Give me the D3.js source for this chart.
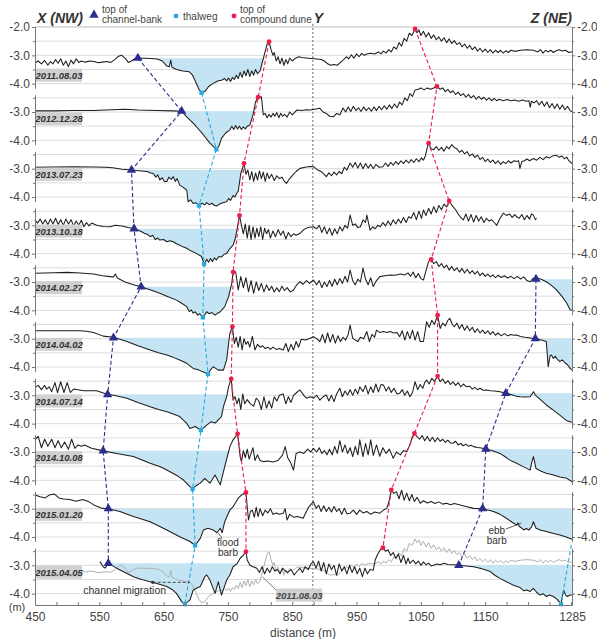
<!DOCTYPE html>
<html>
<head>
<meta charset="utf-8">
<script src="https://cdn.jsdelivr.net/npm/d3@7"></script>
<style>
  body { margin: 0; background: #fff; }
  svg { display: block; font-family: "Liberation Sans", Arial, sans-serif; }
  .axis path, .axis line { stroke: #777; }
  .axis text { fill: #444; font-size: 12px; }
</style>
</head>
<body>
<svg id="chart"></svg>
<script>
// survey dates, one profile per date (top to bottom)
const dates = ["2011.08.03", "2012.12.28", "2013.07.23", "2013.10.18", "2014.02.27",
               "2014.04.02", "2014.07.14", "2014.10.08", "2015.01.20", "2015.04.05"];

// profiles: [distance (m), elevation (m)]
const prof_20110803 = [[450,-3.27],[455,-3.2],[460,-3.3],[465,-3.18],[470,-3.35],[474,-3.22],[478,-3.3],[482,-3.15],[486,-3.28],[490,-3.12],[494,-3.35],[498,-3.2],[502,-3.4],[506,-3.17],[510,-3.3],[514,-3.12],[518,-3.25],[522,-3.2],[528,-3.24],[535,-3.2],[542,-3.22],[548,-3.26],[555,-3.24],[562,-3.22],[568,-3.25],[574,-3.15],[580,-3.03],[585,-3.0],[590,-3.1],[595,-3.25],[600,-3.2],[605,-3.12],[610,-3.1],[620,-3.1],[630,-3.11],[640,-3.13],[648,-3.2],[655,-3.38],[659,-3.4],[661,-3.17],[663,-3.42],[670,-3.5],[680,-3.55],[690,-3.58],[695,-3.7],[700,-3.95],[705,-4.2],[709,-4.32],[714,-4.28],[720,-4.1],[727,-3.99],[735,-3.9],[740,-3.88],[745,-3.82],[748,-3.9],[751,-3.8],[754,-3.92],[757,-3.78],[760,-3.85],[763,-3.7],[766,-3.82],[769,-3.6],[772,-3.78],[775,-3.55],[778,-3.72],[781,-3.5],[784,-3.75],[787,-3.55],[790,-3.7],[793,-3.5],[796,-3.65],[800,-3.55],[804,-3.2],[808,-2.85],[811,-2.6],[814,-2.52],[817,-2.8],[820,-3.0],[822,-2.9],[825,-3.2],[828,-3.05],[831,-3.3],[834,-3.1],[837,-3.35],[840,-3.15],[843,-3.3],[846,-3.1],[850,-3.2],[855,-3.1],[860,-3.05],[865,-3.08],[875,-3.1],[885,-3.12],[895,-3.15],[900,-3.2],[905,-3.3],[910,-3.35],[915,-3.32],[920,-3.35],[925,-3.25],[930,-3.15],[934,-3.05],[938,-3.12],[942,-2.98],[946,-3.1],[950,-2.95],[954,-3.05],[958,-2.93],[962,-3.0],[966,-2.95],[972,-2.93],[978,-2.95],[984,-2.88],[988,-2.95],[992,-2.85],[996,-2.92],[1000,-2.8],[1004,-2.88],[1008,-2.7],[1012,-2.78],[1016,-2.55],[1020,-2.68],[1024,-2.4],[1028,-2.5],[1032,-2.22],[1036,-2.3],[1041,-2.07],[1044,-2.2],[1047,-2.1],[1050,-2.3],[1054,-2.15],[1058,-2.35],[1062,-2.2],[1066,-2.4],[1070,-2.28],[1074,-2.45],[1078,-2.35],[1082,-2.5],[1086,-2.38],[1090,-2.55],[1094,-2.42],[1098,-2.58],[1102,-2.48],[1106,-2.62],[1110,-2.55],[1114,-2.7],[1118,-2.6],[1122,-2.75],[1126,-2.65],[1130,-2.8],[1134,-2.7],[1138,-2.85],[1142,-2.75],[1146,-2.88],[1150,-2.78],[1154,-2.9],[1158,-2.8],[1162,-2.92],[1166,-2.82],[1170,-2.9],[1174,-2.82],[1178,-2.92],[1182,-2.84],[1186,-2.9],[1190,-2.82],[1196,-2.86],[1205,-2.82],[1215,-2.8],[1225,-2.82],[1232,-2.88],[1236,-2.8],[1240,-2.92],[1244,-2.82],[1248,-2.88],[1252,-2.82],[1256,-2.9],[1260,-2.84],[1265,-2.8],[1270,-2.85],[1275,-2.82],[1280,-2.9],[1285,-2.87]];

const prof_20121228 = [[450,-2.96],[480,-2.96],[510,-2.95],[540,-2.95],[570,-2.92],[590,-2.9],[610,-2.93],[640,-2.95],[665,-2.96],[678,-2.97],[686,-3.17],[694,-3.35],[701,-3.52],[712,-3.81],[722,-4.1],[732,-4.32],[736,-4.2],[740,-3.93],[746,-3.75],[753,-3.63],[756,-3.5],[759,-3.62],[762,-3.48],[765,-3.6],[768,-3.5],[771,-3.62],[774,-3.52],[777,-3.6],[780,-3.5],[784,-3.46],[789,-3.1],[793,-2.64],[797,-2.48],[802,-2.46],[805,-3.1],[808,-3.05],[811,-3.2],[814,-3.08],[817,-3.18],[820,-3.05],[823,-3.15],[826,-3.02],[829,-3.2],[832,-3.05],[835,-3.15],[838,-3.08],[842,-3.18],[846,-3.0],[850,-3.1],[857,-2.93],[865,-2.95],[872,-2.92],[877,-2.93],[885,-2.9],[893,-2.87],[898,-3.0],[903,-3.05],[908,-3.15],[914,-3.17],[919,-3.05],[924,-3.1],[929,-2.86],[933,-3.0],[937,-2.82],[941,-2.98],[945,-2.8],[949,-2.95],[953,-2.85],[957,-2.98],[961,-2.82],[965,-2.95],[969,-2.85],[973,-2.97],[977,-2.82],[981,-2.95],[985,-2.8],[989,-2.92],[993,-2.78],[997,-2.9],[1001,-2.75],[1005,-2.88],[1009,-2.72],[1013,-2.85],[1017,-2.65],[1021,-2.75],[1025,-2.5],[1029,-2.6],[1033,-2.35],[1037,-2.45],[1041,-2.22],[1046,-2.2],[1050,-2.15],[1055,-2.22],[1060,-2.15],[1065,-2.2],[1070,-2.15],[1075,-2.1],[1080,-2.2],[1084,-2.15],[1088,-2.28],[1092,-2.2],[1096,-2.32],[1100,-2.25],[1104,-2.38],[1108,-2.3],[1112,-2.42],[1116,-2.35],[1120,-2.48],[1124,-2.38],[1128,-2.5],[1132,-2.42],[1136,-2.55],[1140,-2.45],[1144,-2.55],[1148,-2.48],[1152,-2.58],[1156,-2.5],[1160,-2.6],[1164,-2.52],[1168,-2.6],[1172,-2.55],[1178,-2.6],[1184,-2.56],[1190,-2.6],[1196,-2.58],[1202,-2.62],[1208,-2.58],[1214,-2.62],[1218,-2.6],[1220,-2.83],[1222,-2.62],[1226,-2.68],[1230,-2.6],[1234,-2.75],[1238,-2.62],[1242,-2.8],[1246,-2.65],[1250,-2.85],[1254,-2.7],[1258,-2.88],[1262,-2.72],[1266,-2.9],[1270,-2.75],[1274,-2.92],[1278,-2.8],[1282,-2.95],[1285,-2.99]];

const prof_20130723 = [[450,-2.95],[480,-2.94],[510,-2.93],[540,-2.94],[560,-2.95],[571,-2.97],[585,-3.02],[600,-3.05],[612,-3.07],[624,-3.1],[630,-3.15],[634,-3.17],[638,-3.3],[641,-3.22],[644,-3.4],[648,-3.32],[651,-3.45],[655,-3.45],[658,-3.3],[662,-3.38],[665,-3.28],[668,-3.45],[671,-3.35],[675,-3.58],[680,-3.65],[686,-3.76],[688,-4.17],[692,-4.1],[696,-4.23],[700,-4.2],[705,-4.3],[710,-4.22],[714,-4.28],[717,-4.2],[721,-4.27],[725,-4.22],[729,-4.3],[732,-4.32],[737,-4.25],[742,-4.2],[748,-4.17],[751,-4.05],[754,-4.12],[758,-3.95],[761,-4.0],[764,-3.85],[766,-3.8],[770,-3.17],[775,-2.81],[778,-3.2],[781,-3.05],[784,-3.4],[787,-3.1],[790,-3.45],[793,-3.15],[796,-3.4],[799,-3.08],[802,-3.35],[805,-3.12],[808,-3.45],[811,-3.15],[814,-3.35],[818,-3.2],[822,-3.42],[826,-3.25],[830,-3.35],[834,-3.3],[838,-3.45],[841,-3.52],[846,-3.35],[851,-3.22],[856,-3.1],[862,-2.99],[870,-2.95],[877,-2.92],[883,-2.93],[890,-3.05],[896,-3.12],[903,-3.28],[907,-3.15],[911,-3.25],[915,-3.12],[919,-3.22],[923,-3.1],[927,-3.18],[931,-2.95],[935,-3.05],[940,-2.8],[944,-2.95],[948,-2.78],[952,-2.98],[956,-2.8],[960,-3.0],[964,-2.82],[968,-2.98],[972,-2.85],[976,-3.0],[980,-2.85],[985,-2.95],[991,-2.93],[995,-2.8],[999,-2.92],[1003,-2.78],[1007,-2.88],[1011,-2.75],[1015,-2.85],[1019,-2.72],[1023,-2.82],[1027,-2.7],[1031,-2.8],[1035,-2.68],[1039,-2.78],[1043,-2.65],[1047,-2.75],[1051,-2.62],[1054,-2.7],[1057,-2.55],[1060,-2.25],[1062,-2.1],[1066,-2.3],[1070,-2.33],[1074,-2.22],[1078,-2.35],[1082,-2.25],[1086,-2.38],[1090,-2.22],[1094,-2.3],[1098,-2.15],[1102,-2.25],[1106,-2.3],[1110,-2.42],[1114,-2.35],[1118,-2.48],[1122,-2.4],[1126,-2.55],[1130,-2.48],[1134,-2.6],[1138,-2.52],[1142,-2.68],[1146,-2.6],[1150,-2.75],[1154,-2.66],[1158,-2.78],[1162,-2.7],[1166,-2.82],[1170,-2.72],[1174,-2.85],[1178,-2.75],[1182,-2.82],[1186,-2.72],[1190,-2.8],[1195,-2.72],[1199,-2.75],[1202,-2.72],[1204,-2.99],[1207,-2.75],[1211,-2.72],[1215,-2.66],[1219,-2.72],[1225,-2.64],[1230,-2.7],[1235,-2.6],[1240,-2.68],[1245,-2.58],[1250,-2.62],[1255,-2.55],[1261,-2.53],[1265,-2.6],[1269,-2.55],[1273,-2.65],[1277,-2.6],[1280,-2.72],[1282,-2.75],[1285,-2.82]];

const prof_20131018 = [[450,-2.81],[454,-2.92],[458,-2.78],[462,-2.95],[466,-2.8],[470,-2.98],[474,-2.78],[478,-2.95],[482,-2.75],[486,-2.97],[490,-2.8],[494,-3.0],[498,-2.78],[502,-2.95],[506,-2.8],[510,-3.02],[514,-2.85],[518,-3.0],[522,-2.82],[526,-3.05],[530,-2.9],[534,-3.02],[538,-2.92],[546,-3.0],[556,-3.04],[567,-3.05],[575,-3.0],[585,-3.02],[595,-3.08],[604,-3.12],[612,-3.18],[620,-3.28],[625,-3.32],[629,-3.4],[633,-3.35],[637,-3.5],[641,-3.45],[644,-3.52],[650,-3.5],[655,-3.58],[660,-3.54],[665,-3.58],[670,-3.65],[675,-3.7],[680,-3.76],[686,-3.81],[692,-3.9],[701,-3.99],[709,-4.1],[713,-4.37],[717,-4.2],[720,-4.3],[723,-4.17],[726,-4.28],[729,-4.15],[732,-4.22],[736,-4.1],[740,-4.12],[744,-4.02],[748,-3.99],[752,-3.85],[758,-3.7],[761,-3.5],[764,-3.17],[768,-2.65],[771,-3.0],[774,-3.3],[777,-2.95],[780,-3.45],[783,-3.0],[786,-3.5],[789,-3.05],[792,-3.45],[795,-3.1],[798,-3.4],[801,-3.05],[804,-3.5],[807,-3.1],[810,-3.3],[813,-3.15],[816,-3.45],[820,-3.2],[824,-3.4],[828,-3.15],[832,-3.35],[836,-3.2],[840,-3.48],[844,-3.25],[848,-3.4],[852,-3.3],[856,-3.35],[862,-3.28],[868,-3.15],[874,-3.08],[883,-3.05],[888,-3.12],[892,-3.0],[896,-3.25],[900,-3.05],[904,-3.3],[908,-3.1],[912,-3.35],[916,-3.12],[920,-3.3],[924,-3.05],[928,-3.2],[932,-3.0],[936,-3.1],[940,-2.64],[944,-3.0],[948,-2.95],[952,-3.08],[956,-3.05],[960,-2.81],[964,-2.9],[966,-2.64],[971,-3.17],[975,-3.05],[979,-3.12],[983,-3.0],[987,-3.05],[991,-2.9],[995,-3.02],[999,-2.85],[1003,-3.0],[1007,-2.8],[1011,-2.95],[1015,-2.78],[1019,-2.92],[1023,-2.72],[1027,-2.9],[1031,-2.7],[1035,-2.75],[1039,-2.55],[1043,-2.8],[1047,-2.5],[1051,-2.75],[1054,-2.46],[1058,-2.65],[1062,-2.4],[1066,-2.6],[1070,-2.34],[1074,-2.55],[1078,-2.3],[1082,-2.45],[1086,-2.25],[1090,-2.35],[1094,-2.14],[1097,-2.25],[1100,-2.34],[1104,-2.45],[1108,-2.6],[1112,-2.72],[1116,-2.81],[1120,-2.6],[1124,-2.85],[1128,-2.62],[1132,-2.88],[1136,-2.65],[1140,-2.85],[1144,-2.7],[1148,-2.9],[1152,-2.75],[1156,-2.85],[1160,-2.8],[1164,-2.9],[1168,-3.0],[1172,-2.8],[1178,-2.57],[1183,-2.65],[1188,-2.6],[1192,-2.72],[1196,-2.62],[1199,-2.7],[1203,-2.75],[1207,-2.62],[1211,-2.8],[1215,-2.65],[1219,-2.78],[1222,-2.6],[1225,-2.64],[1228,-2.8],[1230,-2.75]];

const prof_20140227 = [[450,-2.69],[480,-2.67],[500,-2.66],[520,-2.68],[541,-2.72],[555,-2.78],[567,-2.81],[572,-2.82],[575,-2.72],[578,-2.86],[590,-3.0],[603,-3.1],[615,-3.17],[630,-3.28],[644,-3.4],[655,-3.5],[670,-3.64],[678,-3.75],[686,-3.87],[690,-4.05],[693,-3.98],[696,-4.1],[699,-4.05],[703,-4.17],[706,-4.12],[711,-4.25],[714,-4.15],[717,-4.05],[721,-4.12],[725,-4.08],[730,-4.17],[734,-4.1],[738,-4.05],[745,-3.87],[751,-3.52],[756,-3.05],[758,-2.65],[762,-2.64],[766,-3.28],[770,-2.81],[774,-3.2],[778,-2.85],[782,-3.34],[786,-2.95],[790,-3.4],[794,-3.0],[798,-3.3],[802,-3.05],[806,-3.35],[810,-3.1],[814,-3.3],[818,-3.15],[822,-3.35],[826,-3.2],[830,-3.34],[834,-3.15],[838,-3.3],[842,-3.2],[847,-3.35],[852,-3.28],[857,-3.1],[862,-2.99],[867,-3.08],[872,-2.95],[877,-3.05],[883,-2.93],[888,-3.1],[892,-2.95],[896,-3.2],[900,-3.0],[904,-3.16],[908,-2.95],[912,-3.15],[916,-2.9],[920,-3.1],[924,-2.88],[928,-3.05],[932,-2.8],[936,-3.0],[940,-2.58],[944,-2.95],[948,-3.1],[952,-2.9],[956,-3.0],[960,-2.51],[964,-2.9],[968,-3.1],[972,-2.85],[976,-3.16],[981,-2.95],[986,-2.81],[994,-2.78],[1002,-2.75],[1010,-2.76],[1018,-2.72],[1025,-2.75],[1030,-2.68],[1034,-2.8],[1038,-2.65],[1042,-2.85],[1046,-2.7],[1050,-2.88],[1054,-2.93],[1058,-2.6],[1062,-2.28],[1066,-2.2],[1070,-2.35],[1074,-2.28],[1078,-2.45],[1082,-2.35],[1086,-2.5],[1090,-2.4],[1094,-2.58],[1098,-2.45],[1102,-2.6],[1106,-2.5],[1110,-2.65],[1114,-2.52],[1118,-2.68],[1122,-2.55],[1126,-2.7],[1130,-2.6],[1134,-2.72],[1138,-2.62],[1142,-2.78],[1146,-2.68],[1150,-2.8],[1154,-2.72],[1158,-2.82],[1162,-2.75],[1166,-2.85],[1170,-2.76],[1175,-2.84],[1180,-2.78],[1185,-2.86],[1190,-2.8],[1195,-2.88],[1200,-2.8],[1205,-2.9],[1210,-2.82],[1215,-2.95],[1220,-2.99],[1224,-2.88],[1229,-2.85],[1237,-2.9],[1245,-2.99],[1253,-3.12],[1261,-3.28],[1269,-3.5],[1277,-3.75],[1282,-3.98],[1285,-4.0]];

const prof_20140402 = [[450,-2.72],[480,-2.72],[500,-2.72],[520,-2.72],[530,-2.74],[541,-2.78],[556,-2.91],[572,-2.95],[593,-3.1],[610,-3.25],[629,-3.4],[642,-3.5],[655,-3.58],[665,-3.66],[675,-3.75],[686,-3.87],[696,-4.05],[705,-4.11],[712,-4.18],[719,-4.25],[723,-4.1],[727,-3.99],[731,-4.05],[735,-4.11],[743,-4.11],[748,-3.75],[751,-3.17],[753,-2.81],[757,-2.58],[760,-3.17],[763,-2.95],[766,-3.3],[769,-2.92],[772,-3.4],[775,-3.0],[778,-3.2],[781,-3.1],[784,-3.3],[788,-2.92],[792,-3.4],[796,-3.2],[800,-3.3],[804,-3.25],[808,-3.35],[812,-3.3],[816,-3.38],[820,-3.3],[825,-3.38],[830,-3.35],[836,-3.4],[840,-3.17],[844,-3.46],[848,-3.2],[852,-3.4],[856,-3.1],[860,-3.3],[864,-3.02],[870,-3.05],[876,-3.0],[883,-2.93],[888,-3.0],[893,-3.1],[897,-2.85],[901,-3.15],[905,-2.8],[909,-3.12],[913,-2.85],[917,-3.16],[921,-2.9],[925,-3.1],[929,-2.95],[933,-3.05],[937,-2.85],[940,-2.52],[944,-2.99],[948,-3.05],[952,-3.1],[956,-2.95],[961,-3.0],[966,-2.75],[970,-3.1],[974,-2.85],[978,-2.95],[981,-2.7],[986,-2.78],[992,-2.75],[997,-2.78],[1002,-2.75],[1008,-2.8],[1013,-2.78],[1017,-2.93],[1021,-2.72],[1025,-3.05],[1029,-2.75],[1033,-3.0],[1037,-2.7],[1041,-3.05],[1045,-2.75],[1049,-3.1],[1054,-3.1],[1059,-2.4],[1063,-2.6],[1067,-2.35],[1071,-2.5],[1076,-2.17],[1080,-2.64],[1084,-2.45],[1088,-2.55],[1092,-2.35],[1095,-2.28],[1099,-2.5],[1102,-2.58],[1106,-2.45],[1110,-2.65],[1114,-2.5],[1118,-2.7],[1122,-2.55],[1126,-2.72],[1130,-2.6],[1134,-2.78],[1138,-2.65],[1142,-2.8],[1146,-2.7],[1150,-2.82],[1154,-2.72],[1158,-2.85],[1162,-2.75],[1166,-2.88],[1170,-2.8],[1175,-2.9],[1180,-2.82],[1185,-2.9],[1190,-2.85],[1195,-2.88],[1199,-2.87],[1205,-2.92],[1212,-2.95],[1218,-2.97],[1228,-3.0],[1236,-3.04],[1245,-3.1],[1248,-3.99],[1251,-3.6],[1253,-3.58],[1256,-3.7],[1259,-3.62],[1262,-3.72],[1266,-3.81],[1270,-3.75],[1274,-3.85],[1278,-3.92],[1282,-4.05],[1285,-4.1]];

const prof_20140714 = [[450,-2.72],[455,-2.65],[460,-2.8],[465,-2.65],[468,-2.78],[472,-2.7],[476,-2.87],[481,-2.55],[485,-2.9],[490,-2.52],[495,-2.9],[500,-2.55],[505,-2.9],[510,-2.78],[517,-2.8],[526,-2.84],[546,-2.84],[563,-2.97],[572,-3.0],[593,-3.1],[610,-3.25],[629,-3.4],[642,-3.5],[655,-3.58],[665,-3.66],[675,-3.75],[686,-3.99],[691,-4.17],[699,-4.1],[708,-4.23],[717,-4.05],[724,-3.93],[730,-3.98],[740,-3.75],[743,-3.4],[748,-3.05],[751,-2.7],[755,-2.42],[758,-3.17],[761,-3.05],[764,-3.3],[767,-3.1],[770,-3.5],[773,-2.95],[776,-3.3],[780,-3.15],[785,-3.3],[790,-3.38],[794,-3.1],[798,-3.2],[802,-3.5],[806,-3.05],[810,-3.45],[814,-3.2],[818,-3.45],[822,-3.05],[826,-3.2],[830,-3.0],[836,-2.95],[840,-3.3],[844,-3.05],[848,-3.25],[852,-3.0],[857,-2.9],[862,-2.81],[868,-3.0],[872,-3.1],[878,-3.05],[883,-3.1],[888,-3.0],[893,-3.17],[898,-3.05],[903,-2.99],[907,-3.2],[911,-3.0],[915,-3.22],[919,-2.95],[924,-2.75],[928,-3.05],[932,-2.85],[936,-2.99],[940,-2.8],[944,-3.0],[948,-2.78],[952,-2.95],[955,-2.7],[960,-2.87],[964,-2.65],[968,-2.95],[972,-2.7],[976,-2.9],[980,-2.6],[984,-2.88],[988,-2.62],[992,-2.64],[996,-2.85],[1000,-2.7],[1004,-2.9],[1008,-2.75],[1013,-2.95],[1017,-2.93],[1021,-2.8],[1025,-3.0],[1029,-2.85],[1033,-3.05],[1037,-2.9],[1041,-2.52],[1045,-2.8],[1049,-2.62],[1053,-2.75],[1056,-2.55],[1059,-2.46],[1063,-2.6],[1067,-2.4],[1071,-2.5],[1076,-2.32],[1080,-2.52],[1084,-2.42],[1088,-2.58],[1092,-2.48],[1096,-2.62],[1100,-2.52],[1104,-2.65],[1108,-2.55],[1112,-2.7],[1116,-2.6],[1121,-2.7],[1126,-2.68],[1130,-2.78],[1134,-2.72],[1138,-2.8],[1142,-2.75],[1147,-2.82],[1152,-2.81],[1158,-2.84],[1165,-2.85],[1173,-2.87],[1182,-2.93],[1190,-2.97],[1197,-3.02],[1204,-3.05],[1212,-3.06],[1220,-3.05],[1223,-2.95],[1225,-2.87],[1228,-2.99],[1236,-3.15],[1245,-3.34],[1256,-3.52],[1266,-3.7],[1277,-3.9],[1285,-3.95]];

const prof_20141008 = [[450,-2.57],[455,-2.45],[460,-2.85],[465,-2.55],[470,-2.8],[476,-2.55],[481,-2.85],[486,-2.6],[491,-2.85],[496,-2.65],[502,-2.9],[507,-2.55],[512,-2.87],[517,-2.75],[522,-2.8],[527,-2.75],[538,-2.87],[556,-2.96],[577,-3.05],[603,-3.16],[629,-3.4],[645,-3.52],[660,-3.7],[672,-3.85],[681,-3.99],[691,-4.22],[695,-4.31],[701,-4.18],[707,-4.1],[714,-3.93],[722,-4.1],[730,-3.81],[738,-4.16],[745,-3.52],[753,-2.81],[758,-2.57],[765,-2.36],[769,-3.16],[771,-3.34],[774,-2.95],[777,-3.2],[780,-2.9],[783,-3.25],[786,-3.05],[789,-2.85],[792,-3.3],[796,-3.1],[800,-3.3],[806,-3.34],[812,-3.32],[820,-3.35],[828,-3.3],[835,-3.1],[839,-2.81],[843,-3.2],[848,-3.4],[852,-3.64],[856,-3.05],[862,-3.0],[868,-3.05],[874,-2.9],[879,-3.0],[883,-2.87],[888,-3.0],[892,-2.85],[896,-3.05],[900,-2.95],[904,-3.1],[908,-2.9],[912,-3.1],[916,-2.8],[920,-3.05],[924,-2.6],[928,-3.0],[932,-2.75],[936,-3.05],[940,-2.85],[944,-3.16],[948,-2.8],[952,-3.1],[955,-2.57],[960,-3.16],[964,-2.7],[968,-3.1],[972,-2.57],[976,-3.12],[981,-2.75],[986,-3.15],[991,-2.85],[996,-3.05],[1001,-2.9],[1007,-3.22],[1012,-3.0],[1018,-3.1],[1023,-2.95],[1028,-2.99],[1033,-2.74],[1036,-2.5],[1040,-2.34],[1044,-2.46],[1048,-2.55],[1052,-2.42],[1056,-2.6],[1060,-2.45],[1064,-2.62],[1068,-2.48],[1072,-2.64],[1076,-2.5],[1080,-2.62],[1084,-2.55],[1088,-2.66],[1092,-2.58],[1096,-2.68],[1100,-2.69],[1104,-2.62],[1108,-2.75],[1112,-2.7],[1116,-2.78],[1120,-2.72],[1124,-2.8],[1128,-2.76],[1132,-2.81],[1138,-2.84],[1144,-2.86],[1151,-2.9],[1160,-2.95],[1167,-3.0],[1173,-3.05],[1180,-3.15],[1186,-3.25],[1192,-3.33],[1199,-3.4],[1206,-3.48],[1213,-3.56],[1220,-3.64],[1222,-3.4],[1225,-3.16],[1229,-3.58],[1237,-3.68],[1245,-3.75],[1255,-3.8],[1266,-3.88],[1277,-3.93],[1285,-4.05]];

const prof_20150120 = [[450,-2.52],[458,-2.58],[466,-2.62],[472,-2.52],[480,-2.48],[487,-2.62],[494,-2.66],[504,-2.68],[514,-2.74],[524,-2.68],[534,-2.76],[544,-2.9],[555,-2.99],[564,-3.0],[582,-3.1],[603,-3.28],[629,-3.46],[655,-3.75],[675,-3.99],[691,-4.16],[699,-4.3],[707,-4.05],[712,-3.75],[719,-3.69],[727,-3.75],[733,-3.85],[738,-3.69],[741,-3.85],[745,-3.46],[753,-3.05],[758,-2.93],[766,-2.63],[771,-2.52],[778,-2.43],[780,-2.93],[782,-3.4],[785,-3.1],[788,-3.05],[791,-3.3],[794,-2.95],[797,-3.28],[800,-3.0],[804,-3.25],[808,-3.05],[812,-3.15],[816,-3.0],[820,-3.2],[825,-3.15],[830,-3.2],[836,-3.16],[839,-3.0],[842,-3.4],[846,-3.2],[852,-3.3],[858,-3.28],[867,-3.34],[872,-3.1],[876,-2.93],[883,-2.75],[887,-2.99],[891,-2.88],[895,-3.1],[899,-2.9],[903,-3.1],[907,-2.95],[911,-3.12],[915,-2.92],[919,-3.1],[923,-3.0],[927,-3.2],[931,-2.98],[935,-3.18],[940,-3.16],[945,-3.05],[950,-3.2],[955,-3.05],[960,-3.15],[966,-3.1],[972,-3.2],[978,-3.12],[986,-3.16],[992,-3.05],[997,-2.99],[1001,-2.7],[1004,-2.34],[1008,-2.46],[1012,-2.4],[1016,-2.65],[1020,-2.35],[1024,-2.7],[1028,-2.45],[1032,-2.72],[1036,-2.5],[1040,-2.75],[1044,-2.6],[1049,-2.81],[1054,-2.72],[1060,-2.8],[1066,-2.75],[1072,-2.82],[1078,-2.76],[1084,-2.84],[1090,-2.81],[1096,-2.86],[1102,-2.82],[1111,-2.87],[1120,-2.92],[1132,-2.99],[1146,-3.0],[1154,-3.05],[1163,-3.1],[1173,-3.2],[1183,-3.34],[1192,-3.48],[1199,-3.58],[1201,-3.5],[1203,-3.62],[1210,-3.75],[1214,-3.7],[1218,-3.75],[1222,-3.65],[1225,-3.46],[1229,-3.69],[1237,-3.76],[1245,-3.81],[1255,-3.87],[1266,-3.93],[1275,-3.99],[1282,-4.05],[1285,-4.08]];

const prof_20150405 = [[551,-2.87],[556,-3.05],[559,-3.1],[564,-2.93],[577,-3.1],[590,-3.25],[603,-3.4],[616,-3.5],[629,-3.58],[642,-3.66],[655,-3.75],[663,-3.85],[670,-3.99],[678,-4.28],[683,-4.37],[691,-4.22],[696,-3.87],[702,-3.8],[707,-3.75],[714,-3.4],[717,-3.34],[722,-3.52],[730,-3.99],[735,-3.58],[740,-4.05],[748,-3.52],[753,-3.34],[758,-3.05],[764,-2.95],[769,-2.75],[774,-2.64],[778,-2.52],[780,-2.81],[784,-2.99],[789,-3.05],[795,-3.1],[799,-3.25],[803,-3.05],[807,-3.3],[811,-3.1],[815,-3.25],[819,-3.05],[823,-3.2],[827,-3.15],[831,-3.3],[835,-3.1],[839,-3.2],[843,-3.25],[848,-3.15],[853,-3.34],[858,-3.2],[862,-3.1],[866,-3.25],[870,-3.05],[875,-3.15],[879,-2.95],[883,-2.87],[887,-3.1],[891,-2.85],[895,-3.2],[899,-2.9],[903,-3.3],[907,-2.95],[911,-3.15],[915,-3.0],[919,-3.35],[923,-2.95],[927,-3.2],[931,-3.05],[935,-3.3],[939,-3.0],[943,-3.25],[947,-3.05],[951,-3.3],[955,-3.1],[959,-3.4],[963,-3.1],[967,-3.3],[971,-3.15],[976,-3.17],[979,-2.81],[983,-2.6],[987,-2.45],[991,-2.38],[995,-2.5],[999,-2.45],[1003,-2.65],[1007,-2.55],[1011,-2.75],[1015,-2.6],[1019,-2.9],[1023,-2.65],[1027,-2.95],[1030,-2.75],[1033,-2.93],[1038,-2.82],[1042,-2.95],[1046,-2.85],[1050,-3.0],[1054,-2.88],[1058,-2.98],[1062,-2.92],[1066,-3.02],[1070,-3.0],[1075,-2.95],[1080,-2.98],[1086,-2.93],[1092,-2.97],[1100,-2.98],[1109,-3.0],[1120,-3.02],[1132,-3.05],[1145,-3.12],[1158,-3.22],[1165,-3.35],[1173,-3.46],[1183,-3.58],[1194,-3.7],[1204,-3.78],[1210,-3.9],[1215,-3.87],[1220,-3.92],[1225,-3.81],[1230,-3.95],[1235,-4.05],[1240,-4.0],[1245,-4.1],[1250,-4.05],[1256,-4.1],[1262,-4.2],[1268,-4.37],[1270,-4.1],[1272,-3.87],[1275,-4.05],[1278,-4.1],[1282,-4.05],[1285,-4.05]];

const profiles = [prof_20110803, prof_20121228, prof_20130723, prof_20131018, prof_20140227,
                  prof_20140402, prof_20140714, prof_20141008, prof_20150120, prof_20150405];

// feature points per survey [distance, elevation]
const bankLeft  = [[610,-3.1],[678,-2.97],[600,-3.05],[604,-3.12],[615,-3.17],[572,-2.97],[563,-2.97],[556,-2.96],[564,-3.0],[564,-2.93]];
const thalweg   = [[709,-4.32],[732,-4.32],[705,-4.3],[713,-4.37],[711,-4.25],[719,-4.25],[708,-4.23],[695,-4.31],[699,-4.3],[683,-4.37]];
const duneLeft  = [[814,-2.52],[797,-2.48],[775,-2.81],[768,-2.65],[758,-2.65],[757,-2.58],[755,-2.42],[765,-2.36],[778,-2.43],[778,-2.52]];
const duneRight = [[1041,-2.07],[1075,-2.1],[1062,-2.1],[1094,-2.14],[1066,-2.2],[1076,-2.17],[1076,-2.32],[1040,-2.34],[1004,-2.34],[991,-2.38]];
const bankRight = [null,null,null,null,[1229,-2.9],[1228,-3.0],[1182,-2.93],[1151,-2.9],[1146,-3.0],[1109,-3.0]];
const thalwegRight = [[8,1284,-4.28],[9,1268,-4.37]]; // [survey, distance, elevation]

// elevation where each date tag sits
const dateTagLevel = [-3.7,-3.24,-3.2,-3.2,-3.2,-3.2,-3.2,-3.2,-3.2,-3.24];

const xTicks = [450, 550, 650, 750, 850, 950, 1050, 1150, 1285];
const lineY = 882;   // position of section point Y

const width = 597, height = 639;
const svg = d3.select("#chart").attr("width", width).attr("height", height);

const x = d3.scaleLinear().domain([450, 1285]).range([35, 572]);
// one shared vertical scale, each survey shifted down by 2 m
const y = d3.scaleLinear().domain([-2, -22.4]).range([27, 605]);
const gy = (k, v) => y(v - 2 * k);

const navy = "#2b2e8c", cyan = "#27aae1", red = "#ec1d4b";

// grid lines every 0.5 m
svg.append("g").selectAll("line")
  .data(d3.range(-2, -22.01, -0.5))
  .join("line")
  .attr("x1", 35).attr("x2", 572)
  .attr("y1", d => y(d)).attr("y2", d => y(d))
  .attr("stroke", (d, i) => i === 0 ? "#bbb" : "#dcdcdc")
  .attr("stroke-width", 1);

// channel fills (below the bank-top level)
function channelFill(k, d0, d1, level) {
  const pts = profiles[k].filter(p => p[0] >= d0 && p[0] <= d1);
  return d3.area()
    .x(p => x(p[0]))
    .y0(gy(k, level))
    .y1(p => gy(k, Math.min(p[1], level)))(pts);
}
const fills = svg.append("g");
profiles.forEach((p, k) => {
  fills.append("path").attr("d", channelFill(k, bankLeft[k][0], duneLeft[k][0], bankLeft[k][1]))
    .attr("fill", "#c4e4f3");
  if (bankRight[k]) {
    fills.append("path").attr("d", channelFill(k, bankRight[k][0], 1285, bankRight[k][1]))
      .attr("fill", "#c4e4f3");
  }
});

// section point Y
svg.append("line")
  .attr("x1", x(lineY)).attr("x2", x(lineY)).attr("y1", 24).attr("y2", 605)
  .attr("stroke", "#444").attr("stroke-width", 0.8).attr("stroke-dasharray", "2,2");

// 2011.08.03 repeated in grey under the last survey
const last = profiles.length - 1;
svg.append("path")
  .datum(prof_20110803)
  .attr("fill", "none").attr("stroke", "#b0b0b0").attr("stroke-width", 1)
  .attr("d", d3.line().x(d => x(d[0])).y(d => gy(last, d[1])));

// profiles
profiles.forEach((p, k) => {
  svg.append("path")
    .datum(p)
    .attr("fill", "none").attr("stroke", "#1e1e1e").attr("stroke-width", 1.05)
    .attr("stroke-linejoin", "round")
    .attr("d", d3.line().x(d => x(d[0])).y(d => gy(k, d[1])));
});

// dashed connectors between surveys
function connector(pts, color) {
  const data = pts.map((p, k) => p ? [p[0], gy(k, p[1])] : null).filter(Boolean);
  svg.append("path").datum(data)
    .attr("fill", "none").attr("stroke", color).attr("stroke-width", 1.1)
    .attr("stroke-dasharray", "4,2.5")
    .attr("d", d3.line().x(d => x(d[0])).y(d => d[1]));
}
connector(bankLeft, navy);
connector(bankRight, navy);
connector(thalweg, cyan);
connector(duneLeft, red);
connector(duneRight, red);
svg.append("path").datum(thalwegRight)
  .attr("fill", "none").attr("stroke", cyan).attr("stroke-width", 1.1)
  .attr("stroke-dasharray", "4,2.5")
  .attr("d", d3.line().x(d => x(d[1])).y(d => gy(d[0], d[2])));

// markers
const tri = d3.symbol().type(d3.symbolTriangle).size(38);
const sq = d3.symbol().type(d3.symbolSquare).size(18);
function markers(pts, path, color) {
  pts.forEach((p, k) => {
    if (!p) return;
    svg.append("path").attr("d", path)
      .attr("transform", `translate(${x(p[0])},${gy(k, p[1])})`)
      .attr("fill", color);
  });
}
markers(bankLeft, tri(), navy);
markers(bankRight, tri(), navy);
markers(thalweg, sq(), cyan);
svg.append("path").attr("d", sq())
  .attr("transform", `translate(${x(thalwegRight[1][1])},${gy(9, thalwegRight[1][2])})`)
  .attr("fill", cyan);
[duneLeft, duneRight].forEach(arr => arr.forEach((p, k) => {
  svg.append("circle").attr("cx", x(p[0])).attr("cy", gy(k, p[1])).attr("r", 2.4).attr("fill", red);
}));

// date tags
dates.forEach((dt, k) => {
  const cy = gy(k, dateTagLevel[k]);
  svg.append("rect").attr("x", 36).attr("y", cy - 6.5).attr("width", 46).attr("height", 13)
    .attr("fill", "#d0d0d0");
  svg.append("text").attr("x", 59).attr("y", cy + 3.5)
    .attr("text-anchor", "middle").attr("font-size", 9.5).attr("font-weight", "bold")
    .attr("font-style", "italic").attr("fill", "#333").text(dt);
});

// label of the grey overlay
svg.append("line")
  .attr("x1", x(804)).attr("y1", gy(last, -3.41)).attr("x2", x(826)).attr("y2", gy(last, -3.9))
  .attr("stroke", "#555").attr("stroke-width", 0.8);
svg.append("rect").attr("x", x(825)).attr("y", gy(last, -4.05) - 6.5).attr("width", 46).attr("height", 13)
  .attr("fill", "#d0d0d0");
svg.append("text").attr("x", x(825) + 23).attr("y", gy(last, -4.05) + 3.5)
  .attr("text-anchor", "middle").attr("font-size", 9.5).attr("font-weight", "bold")
  .attr("font-style", "italic").attr("fill", "#444").text("2011.08.03");

// channel migration
svg.append("line")
  .attr("x1", x(633)).attr("x2", x(691)).attr("y1", gy(last, -3.6)).attr("y2", gy(last, -3.6))
  .attr("stroke", "#333").attr("stroke-width", 0.9).attr("stroke-dasharray", "3,2");
svg.append("circle").attr("cx", x(633)).attr("cy", gy(last, -3.6)).attr("r", 1.6).attr("fill", "#333");
svg.append("text").attr("x", x(525)).attr("y", gy(last, -3.86) + 4)
  .attr("font-size", 10.5).attr("fill", "#333").text("channel migration");

// barbs
const note = (d, v, txt) => svg.append("text").attr("x", x(d)).attr("y", gy(8, v) + 3.5)
  .attr("text-anchor", "middle").attr("font-size", 10).attr("fill", "#333").text(txt);
svg.append("line")
  .attr("x1", x(735)).attr("y1", gy(8, -3.86)).attr("x2", x(741)).attr("y2", gy(8, -4.04))
  .attr("stroke", "#333").attr("stroke-width", 0.8);
note(750, -4.2, "flood");
note(750, -4.54, "barb");
svg.append("line")
  .attr("x1", x(1182)).attr("y1", gy(8, -3.72)).attr("x2", x(1206)).attr("y2", gy(8, -3.51))
  .attr("stroke", "#333").attr("stroke-width", 0.8);
note(1168, -3.78, "ebb");
note(1168, -4.12, "barb");

// vertical axes, one segment per survey on both sides
dates.forEach((dt, k) => {
  const top = k === 0 ? -2.0 : -2.4;
  const bot = k === last ? -4.4 : -4.15;
  const s = d3.scaleLinear().domain([top, bot]).range([gy(k, top), gy(k, bot)]);
  const major = k === 0 ? [-2, -3, -4] : [-3, -4];
  [[d3.axisLeft, 35], [d3.axisRight, 572]].forEach(([axisFn, px]) => {
    svg.append("g").attr("class", "axis").attr("transform", `translate(${px},0)`)
      .call(axisFn(s).tickValues(major).tickSizeInner(3).tickSizeOuter(0).tickPadding(2)
        .tickFormat(d => d.toFixed(1)));
    svg.append("g").attr("class", "axis").attr("transform", `translate(${px},0)`)
      .call(axisFn(s).tickValues([-2.5, -3.5]).tickSizeInner(2).tickSizeOuter(0).tickFormat(""));
  });
});

// distance axis
svg.append("g").attr("class", "axis").attr("transform", "translate(0,605)")
  .call(d3.axisBottom(x).tickValues(d3.range(450, 1285, 100 / 3)).tickSizeInner(-3).tickSizeOuter(0).tickFormat(""));
svg.append("g").attr("class", "axis").attr("transform", "translate(0,605)")
  .call(d3.axisBottom(x).tickValues(xTicks).tickSize(0).tickPadding(7).tickFormat(d3.format("d")))
  .call(g => g.select(".domain").remove());

svg.append("text").attr("x", 303).attr("y", 637).attr("text-anchor", "middle")
  .attr("font-size", 12).attr("fill", "#444").text("distance (m)");
svg.append("text").attr("x", 17).attr("y", 611).attr("text-anchor", "middle")
  .attr("font-size", 11).attr("fill", "#444").text("(m)");

// section labels
const sectionStyle = s => s.attr("font-size", 14).attr("font-weight", "bold").attr("font-style", "italic").attr("fill", "#333");
svg.append("text").attr("x", 37).attr("y", 23).text("X (NW)").call(sectionStyle);
svg.append("text").attr("x", x(lineY) + 1).attr("y", 23).text("Y").call(sectionStyle);
svg.append("text").attr("x", 572).attr("y", 23).attr("text-anchor", "end").text("Z (NE)").call(sectionStyle);

// legend
const legend = svg.append("g").attr("font-size", 10).attr("fill", "#444");
legend.append("path").attr("d", tri()).attr("transform", "translate(94,15)").attr("fill", navy);
legend.append("text").attr("x", 102).attr("y", 13).text("top of");
legend.append("text").attr("x", 102).attr("y", 23).text("channel-bank");
legend.append("path").attr("d", sq()).attr("transform", "translate(176,16)").attr("fill", cyan);
legend.append("text").attr("x", 183).attr("y", 19.5).text("thalweg");
legend.append("circle").attr("cx", 234).attr("cy", 16).attr("r", 2.4).attr("fill", red);
legend.append("text").attr("x", 240).attr("y", 13).text("top of");
legend.append("text").attr("x", 240).attr("y", 23).text("compound dune");
</script>
</body>
</html>
